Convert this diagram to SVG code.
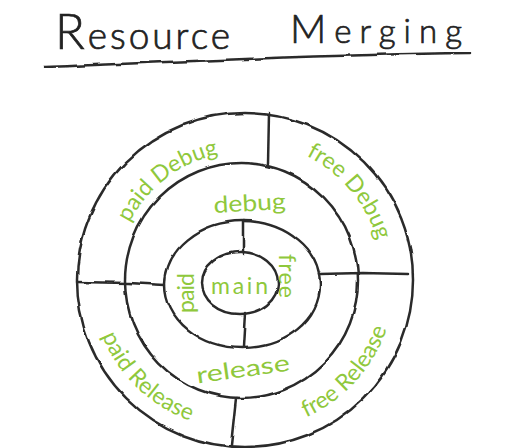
<svg xmlns="http://www.w3.org/2000/svg" width="518" height="448" viewBox="0 0 518 448">
<defs>
<filter id="rough" x="-5%" y="-5%" width="110%" height="110%">
<feTurbulence type="fractalNoise" baseFrequency="0.04" numOctaves="2" seed="3" result="n"/>
<feDisplacementMap in="SourceGraphic" in2="n" scale="3.5" xChannelSelector="R" yChannelSelector="G"/>
</filter>
<path id="arcPaidDebug" d="M120.4,246.9 A128,128 0 0 1 244,152"/>
<path id="arcFreeDebug" d="M268.1,143.1 A139,139 0 0 1 383,280"/>
<path id="arcPaidRelease" d="M93.4,305.7 A150,150 0 0 0 220.5,428.2"/>
<path id="arcFreeRelease" d="M268,429 A152,152 0 0 0 395,290"/>
</defs>
<style>
.ink{fill:none;stroke:#2b2b2b;stroke-width:2.5;stroke-linecap:round;stroke-linejoin:round}
.title{font-family:"Lato","Liberation Sans",sans-serif;font-weight:300;fill:#222;stroke:#222;stroke-width:0.7}
.lbl{font-family:"Lato","Liberation Sans",sans-serif;fill:#8fc83c;font-size:23px}
</style>
<rect width="518" height="448" fill="#ffffff"/>
<g id="title">
<text class="title" x="55" y="49" font-size="37" textLength="175" lengthAdjust="spacing"><tspan font-size="49">R</tspan>esource</text>
<text class="title" x="290" y="43" font-size="33" textLength="172" lengthAdjust="spacing"><tspan font-size="40" dx="0">M</tspan>erging</text>
<path class="ink" d="M45,67 C150,63 300,55 470,53" filter="url(#rough)"/>
</g>
<g id="rings" filter="url(#rough)">
<ellipse class="ink" cx="245" cy="280" rx="168" ry="167"/>
<ellipse class="ink" cx="241.5" cy="280.5" rx="116.5" ry="117.5"/>
<ellipse class="ink" cx="242.5" cy="284.5" rx="77.5" ry="63.5"/>
</g>
<g id="connectors" filter="url(#rough)">
<path class="ink" d="M269,113 L268,164"/>
<path class="ink" d="M77,282 L128,283 L165,285"/>
<path class="ink" d="M320,274 L362,273 L408,274"/>
<path class="ink" d="M243,221 L243,254"/>
<path class="ink" d="M245,313 L243,347"/>
<path class="ink" d="M237,398 L232,445"/>
</g>
<g id="main">
<ellipse class="ink" cx="240" cy="283" rx="38" ry="31" filter="url(#rough)"/>
<text class="lbl" x="211" y="294" font-size="21" textLength="57" lengthAdjust="spacing">main</text>
</g>
<g id="paid">
<text class="lbl" transform="translate(194,293) rotate(-90)" text-anchor="middle" font-size="20" textLength="40" lengthAdjust="spacing">paid</text>
</g>
<g id="free">
<text class="lbl" transform="translate(279,276) rotate(90)" text-anchor="middle" font-size="20" textLength="44" lengthAdjust="spacing">free</text>
</g>
<g id="debug">
<text class="lbl" transform="translate(250,211) rotate(-3)" text-anchor="middle" font-size="29" textLength="72" lengthAdjust="spacingAndGlyphs">debug</text>
</g>
<g id="release">
<text class="lbl" transform="translate(244,377) rotate(-8)" text-anchor="middle" font-size="30" textLength="94" lengthAdjust="spacingAndGlyphs">release</text>
</g>
<g id="paidDebug">
<text class="lbl"><textPath href="#arcPaidDebug" startOffset="50%" text-anchor="middle">paid Debug</textPath></text>
</g>
<g id="freeDebug">
<text class="lbl"><textPath href="#arcFreeDebug" startOffset="50%" text-anchor="middle">free Debug</textPath></text>
</g>
<g id="paidRelease">
<text class="lbl" font-size="20"><textPath href="#arcPaidRelease" startOffset="50%" text-anchor="middle">paid Release</textPath></text>
</g>
<g id="freeRelease">
<text class="lbl" font-size="24"><textPath href="#arcFreeRelease" startOffset="50%" text-anchor="middle">free Release</textPath></text>
</g>
</svg>
